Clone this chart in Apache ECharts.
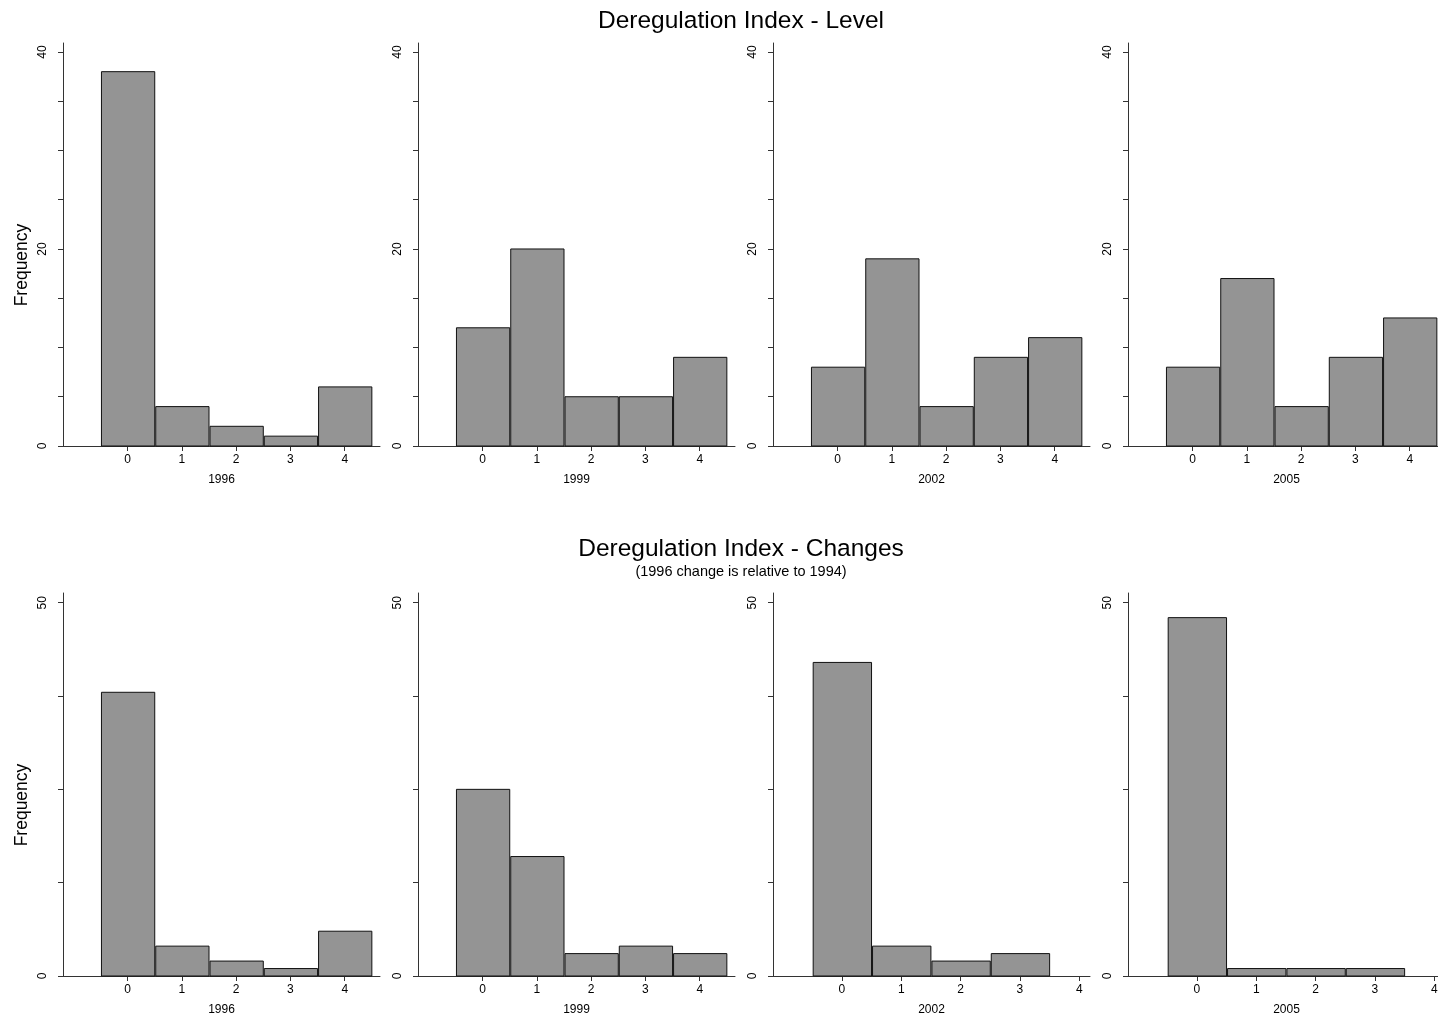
<!DOCTYPE html>
<html>
<head>
<meta charset="utf-8">
<script src="https://cdn.jsdelivr.net/npm/echarts@6/dist/echarts.min.js"></script>
<style>
html,body{margin:0;padding:0;background:#fff;overflow:hidden;width:1438px;height:1021px;}
#chart{width:1460px;height:1021px;}
</style>
</head>
<body>
<div id="chart"></div>
<script>
// ---- data ----
var years = ['1996', '1999', '2002', '2005'];
var levelBins = [0, 1, 2, 3, 4];
var level1996 = [38, 4, 2, 1, 6];
var level1999 = [12, 20, 5, 5, 9];
var level2002 = [8, 19, 4, 9, 11];
var level2005 = [8, 17, 4, 9, 13];
var changeBins1996 = [0, 1, 2, 3, 4];
var changeBins1999 = [0, 1, 2, 3, 4];
var changeBins2002 = [0, 1, 2, 3];
var changeBins2005 = [0, 1, 2, 3];
var change1996 = [38, 4, 2, 1, 6];
var change1999 = [25, 16, 3, 4, 3];
var change2002 = [42, 4, 2, 3];
var change2005 = [48, 1, 1, 1];
var xTicks = [0, 1, 2, 3, 4];
var levelYTicks = [0, 5, 10, 15, 20, 25, 30, 35, 40];
var levelYLabels = [0, 20, 40];
var changeYTicks = [0, 12.5, 25, 37.5, 50];
var changeYLabels = [0, 50];
var titleLevel = 'Deregulation Index - Level';
var titleChanges = 'Deregulation Index - Changes';
var subtitleChanges = '(1996 change is relative to 1994)';

// ---- layout ----
var FONT = '"Liberation Sans", Arial, sans-serif';
var panelLefts = [63, 418, 773, 1128];
var panelWidth = 317;
var rows = [
  {top: 43, height: 403, yMax: 40.91, ticks: levelYTicks, labels: levelYLabels,
   bins: [levelBins, levelBins, levelBins, levelBins],
   data: [level1996, level1999, level2002, level2005]},
  {top: 593, height: 383, yMax: 51.3, ticks: changeYTicks, labels: changeYLabels,
   bins: [changeBins1996, changeBins1999, changeBins2002, changeBins2005],
   data: [change1996, change1999, change2002, change2005]}
];

var grids = [], xAxes = [], yAxes = [], series = [];
var idx = 0;
rows.forEach(function (row) {
  for (var p = 0; p < 4; p++) {
    var bins = row.bins[p];
    var five = bins.length === 5;
    grids.push({left: panelLefts[p], top: row.top, width: panelWidth, height: row.height, containLabel: false});
    xAxes.push({
      type: 'value', gridIndex: idx,
      min: five ? -1.19 : -1.16, max: five ? 4.65 : 4.18,
      name: years[p], nameLocation: 'middle', nameGap: 28,
      nameTextStyle: {fontFamily: FONT, fontSize: 12, color: '#000'},
      axisLine: {show: true, onZero: false, lineStyle: {color: '#333', width: 1}},
      axisTick: {show: true, length: 5, lineStyle: {color: '#333'}, customValues: xTicks},
      axisLabel: {show: true, customValues: xTicks, fontFamily: FONT, fontSize: 12, color: '#000', margin: 8},
      splitLine: {show: false}
    });
    yAxes.push({
      type: 'value', gridIndex: idx, min: 0, max: row.yMax,
      axisLine: {show: true, onZero: false, lineStyle: {color: '#333', width: 1}},
      axisTick: {show: true, length: 5, lineStyle: {color: '#333'}, customValues: row.ticks},
      axisLabel: {show: true, customValues: row.labels, rotate: 90, fontFamily: FONT, fontSize: 12, color: '#000', margin: 14},
      splitLine: {show: false}
    });
    var pts = bins.map(function (b, i) { return [b, row.data[p][i]]; });
    series.push({
      type: 'custom', xAxisIndex: idx, yAxisIndex: idx, data: pts, clip: false,
      renderItem: function (params, api) {
        var x = api.value(0), y = api.value(1);
        var a = api.coord([x - 0.5, y]);
        var b = api.coord([x + 0.5, 0]);
        return {
          type: 'rect',
          shape: {x: a[0] + 1, y: a[1], width: b[0] - a[0] - 1, height: b[1] - a[1]},
          style: {fill: '#949494', stroke: '#111', lineWidth: 1}
        };
      }
    });
    idx++;
  }
});

var chart = echarts.init(document.getElementById('chart'), null, {renderer: 'canvas'});
chart.setOption({
  backgroundColor: '#fff',
  animation: false,
  grid: grids,
  xAxis: xAxes,
  yAxis: yAxes,
  series: series,
  graphic: [
    {type: 'text', x: 741, y: 21, style: {text: titleLevel, font: '24.5px ' + FONT, fill: '#000', textAlign: 'center', textVerticalAlign: 'middle'}},
    {type: 'text', x: 741, y: 549, style: {text: titleChanges, font: '24.5px ' + FONT, fill: '#000', textAlign: 'center', textVerticalAlign: 'middle'}},
    {type: 'text', x: 741, y: 572, style: {text: subtitleChanges, font: '14.5px ' + FONT, fill: '#000', textAlign: 'center', textVerticalAlign: 'middle'}},
    {type: 'text', x: 22, y: 265, rotation: Math.PI / 2, style: {text: 'Frequency', font: '17.5px ' + FONT, fill: '#000', textAlign: 'center', textVerticalAlign: 'middle'}},
    {type: 'text', x: 22, y: 805, rotation: Math.PI / 2, style: {text: 'Frequency', font: '17.5px ' + FONT, fill: '#000', textAlign: 'center', textVerticalAlign: 'middle'}}
  ]
});
</script>
</body>
</html>
